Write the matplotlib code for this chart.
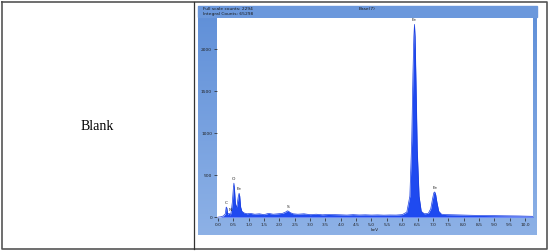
import matplotlib.pyplot as plt
import numpy as np
from matplotlib.patches import Rectangle

# spectrum (keV, counts)
energy = [0.00, 0.10, 0.18, 0.24, 0.27, 0.29, 0.32, 0.35, 0.38, 0.40, 0.43, 0.47, 0.50,
          0.52, 0.54, 0.57, 0.60, 0.63, 0.66, 0.69, 0.71, 0.74, 0.78, 0.85, 0.95,
          1.05, 1.2, 1.35, 1.5, 1.65, 1.8, 1.95, 2.1, 2.2, 2.26, 2.30, 2.35, 2.45,
          2.6, 2.8, 3.0, 3.2, 3.4, 3.6, 3.8, 4.0, 4.2, 4.4, 4.6, 4.8, 5.0, 5.2,
          5.4, 5.6, 5.8, 6.0, 6.15, 6.25, 6.31, 6.35, 6.38, 6.40, 6.42, 6.45,
          6.49, 6.55, 6.62, 6.72, 6.85, 6.93, 6.99, 7.03, 7.06, 7.09, 7.13,
          7.19, 7.28, 7.45, 7.7, 8.0, 8.3, 8.6, 9.0, 9.4, 9.8, 10.26]
counts = [0, 5, 15, 40, 120, 110, 30, 45, 40, 20, 60, 180, 330,
          405, 330, 160, 110, 160, 240, 285, 250, 120, 70, 50, 40,
          45, 35, 40, 30, 45, 35, 40, 45, 60, 75, 70, 55, 40,
          35, 40, 30, 35, 28, 32, 30, 28, 25, 30, 26, 28, 25, 27,
          24, 26, 25, 30, 60, 250, 900, 1700, 2150, 2294, 2150, 1600,
          800, 250, 70, 40, 45, 100, 220, 290, 300, 270, 180,
          70, 35, 30, 28, 25, 22, 20, 18, 16, 14, 10]

peak_names = ["C", "N", "O", "Fe", "S", "Fe", "Fe"]
peak_x = [0.28, 0.39, 0.52, 0.70, 2.30, 6.40, 7.06]
peak_y = [120, 40, 405, 285, 75, 2294, 300]

W, H = 550, 252
fig = plt.figure(figsize=(5.5, 2.52), dpi=100)


def fx(px):
    return px / W


def fy(py):
    return 1 - py / H


# table frame
frame = fig.add_axes([0, 0, 1, 1])
frame.set_xlim(0, W)
frame.set_ylim(H, 0)
frame.axis("off")
frame.plot([2, 547, 547, 2, 2], [2, 2, 249, 249, 2], color="#555555", lw=1.2)
frame.plot([194, 194], [2, 249], color="#333333", lw=0.9)
frame.text(97, 126, "Blank", ha="center", va="center", fontsize=10,
           family="Liberation Serif", color="black")

# blue gradient panel behind the spectrum
grad = np.linspace(0, 1, 100).reshape(-1, 1)
frame.imshow(grad, extent=[198, 537, 235, 6], aspect="auto",
             cmap=plt.matplotlib.colors.LinearSegmentedColormap.from_list(
                 "b", ["#5f8fd8", "#8db1e6"]), zorder=1)
frame.add_patch(Rectangle((198, 6), 339, 11, color="#6b98dc", zorder=2))
frame.text(203, 8.5, "Full scale counts: 2294", fontsize=3.2, color="#1a1a1a",
           va="center", zorder=3)
frame.text(203, 14.5, "Integral Counts: 65298", fontsize=3.2, color="#1a1a1a",
           va="center", zorder=3)
frame.text(367, 8.5, "Base(7)", fontsize=3.2, color="#1a1a1a", ha="center",
           va="center", zorder=3)

# spectrum axes
ax = fig.add_axes([fx(217), fy(218), fx(533) - fx(217), fy(18) - fy(218)])
ax.set_facecolor("white")
ax.fill_between(energy, counts, color="#1f4af0", lw=0)
ax.plot(energy, counts, color="#1a3ee0", lw=0.5)
for name, x, y in zip(peak_names, peak_x, peak_y):
    ax.text(x, y + 25, name, fontsize=3.2, ha="center", va="bottom", color="#222222")
ax.set_xlim(-0.03, 10.26)
ax.set_ylim(-10, 2370)
ax.set_xticks(np.arange(0, 10.01, 0.5))
ax.set_xticklabels([f"{v:.1f}" for v in np.arange(0, 10.01, 0.5)])
ax.set_yticks([0, 500, 1000, 1500, 2000])
ax.tick_params(labelsize=3.2, length=2, width=0.5, pad=1.5, colors="#222222")
for s in ax.spines.values():
    s.set_visible(False)
ax.set_xlabel("keV", fontsize=3.2, labelpad=1, color="#222222")

fig.savefig("out.png", dpi=100)
